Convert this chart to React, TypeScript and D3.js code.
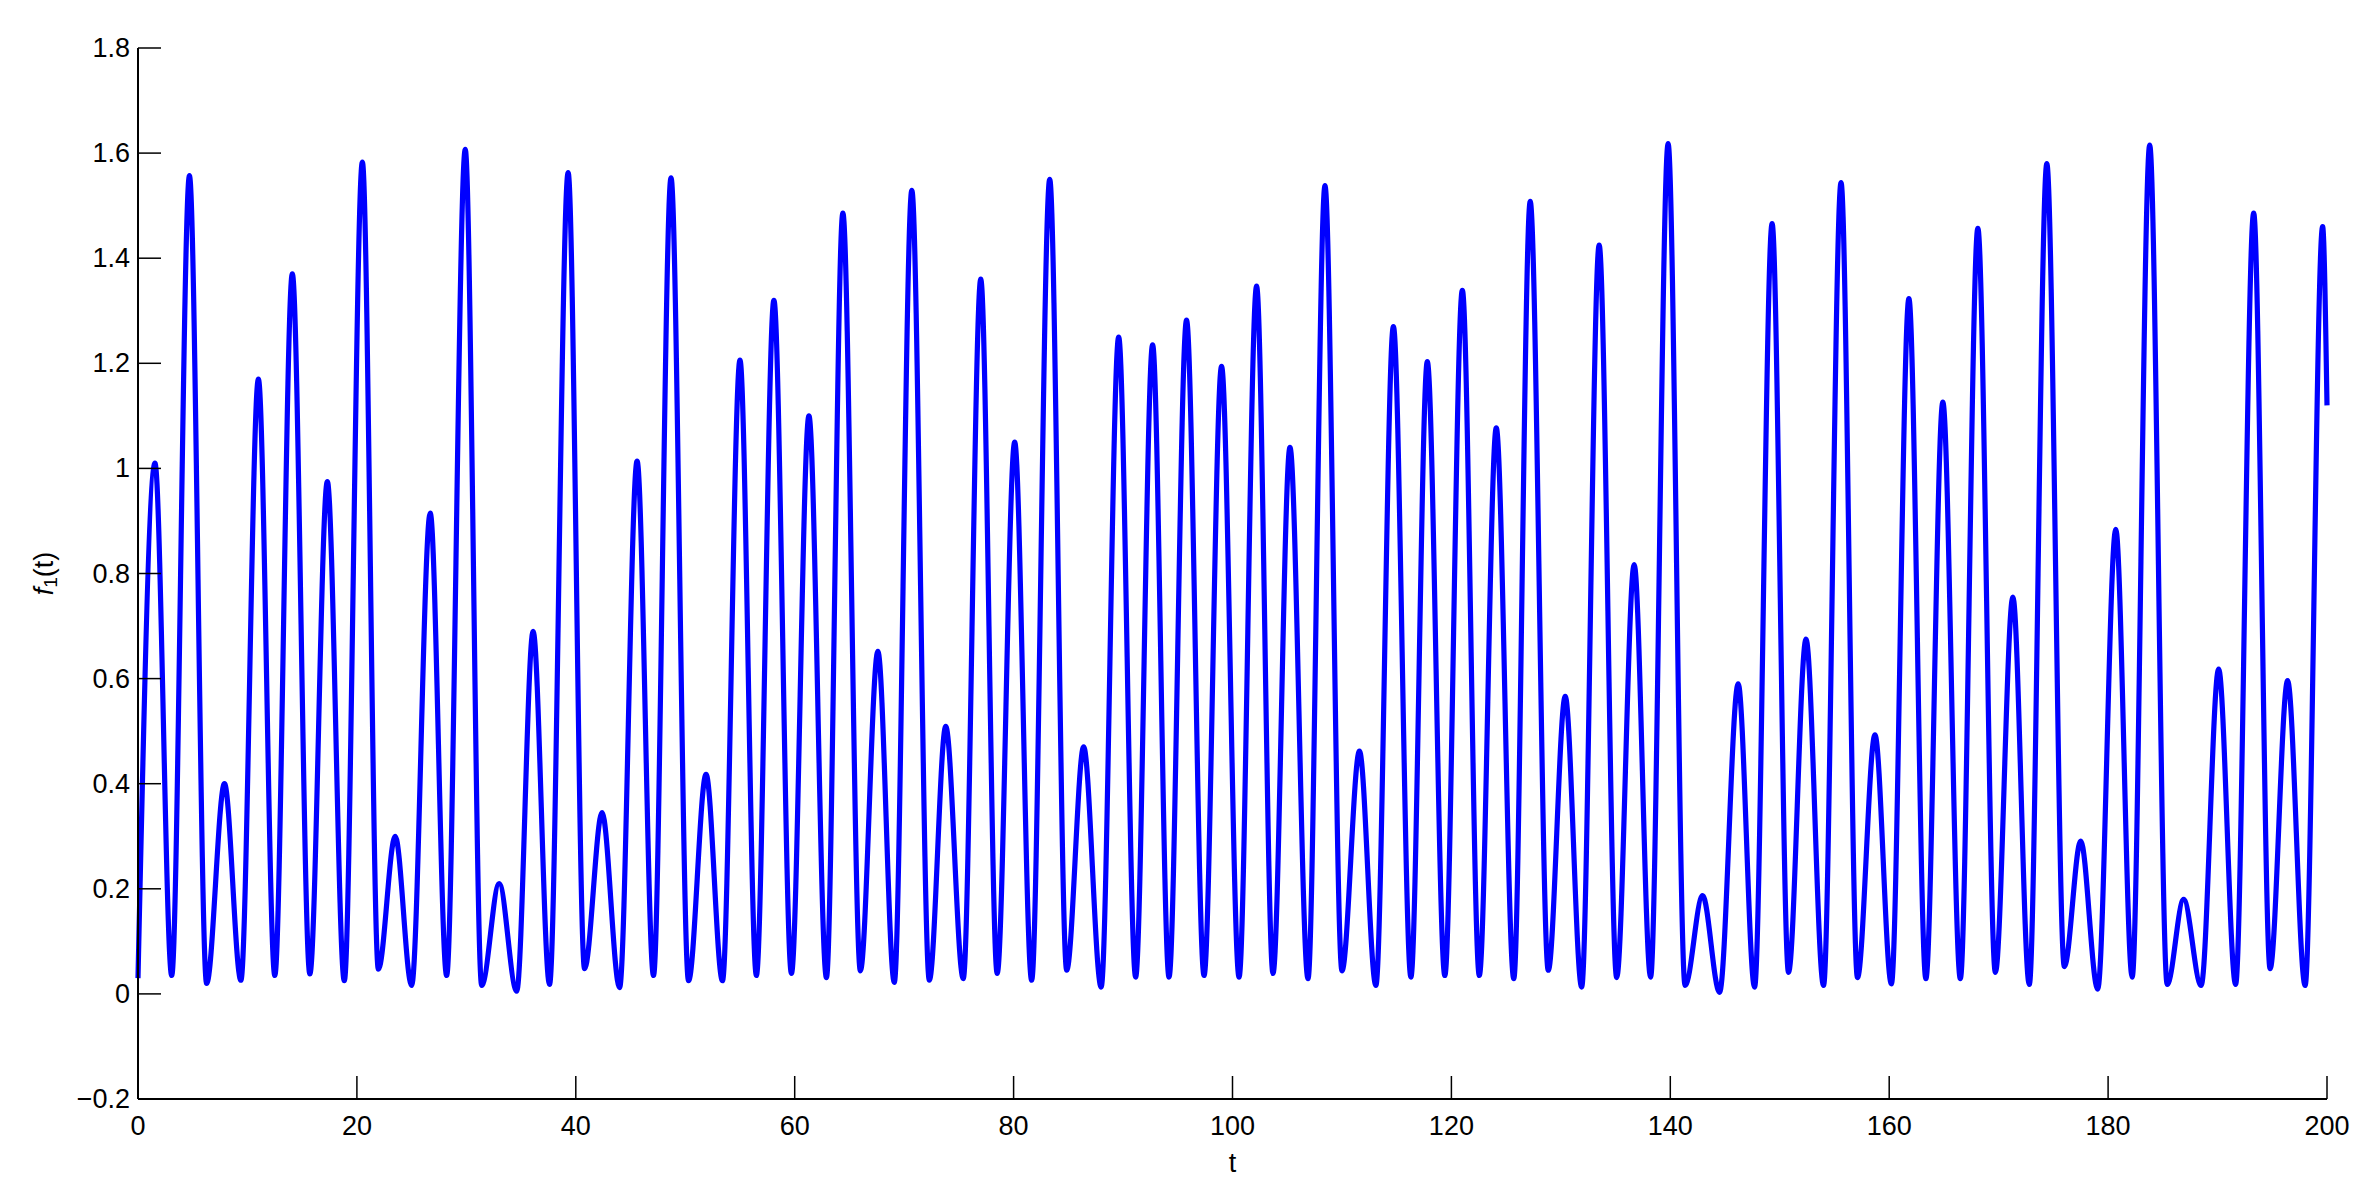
import React, { useEffect } from 'react';
import * as d3 from 'd3';

const width = 2379;
const height = 1179;
const margin = { top: 48, right: 52, bottom: 80, left: 138 };

// extrema of f1(t): time and value
const tPoints = [
  0, 1.55, 3.08, 4.7, 6.27, 7.9, 9.4, 11.0, 12.5, 14.1, 15.7, 17.3, 18.85, 20.5, 21.96, 23.5,
  25.0, 26.7, 28.2, 29.9, 31.4, 33.0, 34.6, 36.1, 37.6, 39.3, 40.8, 42.4, 44.0, 45.6, 47.1, 48.7,
  50.3, 51.9, 53.4, 55.0, 56.5, 58.1, 59.7, 61.3, 62.9, 64.4, 66.0, 67.6, 69.1, 70.7, 72.3, 73.8,
  75.4, 77.0, 78.5, 80.1, 81.65, 83.3, 84.85, 86.4, 88.0, 89.6, 91.15, 92.7, 94.2, 95.8, 97.4,
  99.0, 100.6, 102.2, 103.7, 105.25, 106.9, 108.45, 110.0, 111.6, 113.1, 114.7, 116.3, 117.8,
  119.4, 121.0, 122.55, 124.1, 125.7, 127.2, 128.85, 130.4, 131.9, 133.5, 135.1, 136.7, 138.2,
  139.8, 141.35, 142.95, 144.5, 146.2, 147.7, 149.3, 150.8, 152.4, 154.0, 155.6, 157.1, 158.7,
  160.2, 161.8, 163.35, 164.9, 166.5, 168.1, 169.7, 171.3, 172.8, 174.4, 176.0, 177.5, 179.05,
  180.7, 182.2, 183.8, 185.4, 186.9, 188.5, 190.1, 191.65, 193.3, 194.8, 196.4, 198.0, 199.6, 200,
];

const fPoints = [
  0.03, 1.01, 0.035, 1.557, 0.02, 0.4, 0.026, 1.17, 0.035, 1.37, 0.038, 0.975, 0.025, 1.583, 0.047, 0.3,
  0.016, 0.915, 0.035, 1.607, 0.016, 0.21, 0.005, 0.69, 0.018, 1.563, 0.048, 0.345, 0.012, 1.014, 0.035, 1.553,
  0.025, 0.418, 0.025, 1.206, 0.035, 1.32, 0.039, 1.1, 0.031, 1.486, 0.044, 0.652, 0.022, 1.529, 0.026, 0.509,
  0.029, 1.36, 0.039, 1.05, 0.026, 1.55, 0.045, 0.47, 0.013, 1.25, 0.032, 1.235, 0.032, 1.282, 0.035,
  1.194, 0.032, 1.347, 0.039, 1.04, 0.029, 1.538, 0.044, 0.462, 0.016, 1.27, 0.032, 1.203,
  0.035, 1.339, 0.035, 1.077, 0.029, 1.508, 0.045, 0.566, 0.013, 1.425, 0.031, 0.817, 0.032,
  1.618, 0.016, 0.187, 0.003, 0.59, 0.013, 1.466, 0.041, 0.675, 0.016, 1.544, 0.031, 0.493,
  0.019, 1.323, 0.029, 1.126, 0.029, 1.457, 0.041, 0.755, 0.018, 1.58, 0.052, 0.291, 0.009,
  0.884, 0.032, 1.615, 0.018, 0.18, 0.016, 0.618, 0.018, 1.486, 0.048, 0.596, 0.016, 1.46, 1.12,
];

const xTicks = [0, 20, 40, 60, 80, 100, 120, 140, 160, 180, 200];
const yTicks = [-0.2, 0, 0.2, 0.4, 0.6, 0.8, 1, 1.2, 1.4, 1.6, 1.8];
const yTickLabels = ['\u22120.2', '0', '0.2', '0.4', '0.6', '0.8', '1', '1.2', '1.4', '1.6', '1.8'];

const font = '"Liberation Sans", Arial, Helvetica, sans-serif';

export default function App() {
  useEffect(() => {
    document.body.style.margin = '0';
  }, []);

  const x = d3.scaleLinear().domain([0, 200]).range([margin.left, width - margin.right]);
  const y = d3.scaleLinear().domain([-0.2, 1.8]).range([height - margin.bottom, margin.top]);

  const points: [number, number][] = tPoints.map((t, i) => [t, fPoints[i]]);
  const line = d3
    .line<[number, number]>()
    .x((d) => x(d[0]))
    .y((d) => y(d[1]))
    .curve(d3.curveMonotoneX);

  const x0 = x(0);
  const x1 = x(200);
  const yb = y(-0.2);
  const yt = y(1.8);
  const tick = 23;

  return (
    <svg width={width} height={height} style={{ display: 'block', background: '#fff' }}>
      <path d={line(points) || ''} fill="none" stroke="#0000ff" strokeWidth={5.2} strokeLinejoin="round" />

      {/* axes */}
      <line x1={x0} x2={x0} y1={yt} y2={yb} stroke="#000" strokeWidth={2} />
      <line x1={x0} x2={x1} y1={yb} y2={yb} stroke="#000" strokeWidth={2} />

      {yTicks.map((v, i) => (
        <g key={'y' + v}>
          <line x1={x0} x2={x0 + tick} y1={y(v)} y2={y(v)} stroke="#000" strokeWidth={1.5} />
          <text
            x={x0 - 8}
            y={y(v)}
            textAnchor="end"
            dominantBaseline="central"
            fontFamily={font}
            fontSize={27}
          >
            {yTickLabels[i]}
          </text>
        </g>
      ))}

      {xTicks.map((v) => (
        <g key={'x' + v}>
          <line x1={x(v)} x2={x(v)} y1={yb} y2={yb - tick} stroke="#000" strokeWidth={1.5} />
          <text
            x={x(v)}
            y={yb + 27}
            textAnchor="middle"
            dominantBaseline="central"
            fontFamily={font}
            fontSize={27}
          >
            {v}
          </text>
        </g>
      ))}

      <text
        x={(x0 + x1) / 2}
        y={1163}
        textAnchor="middle"
        dominantBaseline="central"
        fontFamily={font}
        fontSize={27}
      >
        t
      </text>

      <text
        transform={`translate(44, ${(yt + yb) / 2}) rotate(-90)`}
        textAnchor="middle"
        dominantBaseline="central"
        fontFamily={font}
        fontSize={27}
      >
        <tspan fontStyle="italic">f</tspan>
        <tspan fontSize={19} dy={6}>1</tspan>
        <tspan dy={-6}>(t)</tspan>
      </text>
    </svg>
  );
}
